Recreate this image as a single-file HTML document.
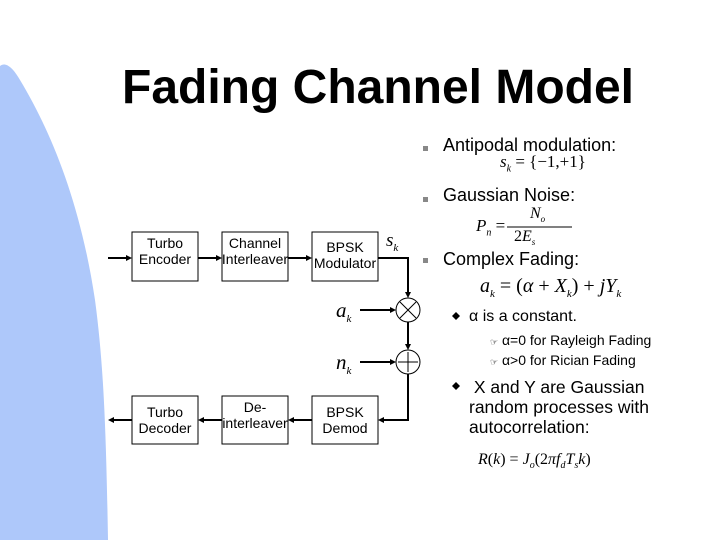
<!DOCTYPE html>
<html><head><meta charset="utf-8"><style>
body{margin:0;width:720px;height:540px;background:#fff;overflow:hidden;position:relative;font-family:"Liberation Sans",sans-serif}
.t{position:absolute;white-space:nowrap}
.m{font-family:"Liberation Serif",serif;font-style:italic}
</style></head><body>
<svg width="720" height="540" style="position:absolute;left:0;top:0">
<path d="M0,66 C5,62 12,66 20,80 C50,130 80,200 95,300 C103,360 106,420 108,540 L0,540 Z" fill="#aec8fa"/>
<g fill="none" stroke="#000" stroke-width="1">
<rect x="132" y="232" width="66" height="49"/>
<rect x="222" y="232" width="66" height="49"/>
<rect x="312" y="232" width="66" height="49"/>
<rect x="132" y="396" width="66" height="48"/>
<rect x="222" y="396" width="66" height="48"/>
<rect x="312" y="396" width="66" height="48"/>
<circle cx="408" cy="310" r="12"/>
<circle cx="408" cy="362" r="12"/>
<path d="M400,302 L416,318 M416,302 L400,318 M398,362 L418,362 M408,352 L408,372"/>
</g>
<g stroke="#000" stroke-width="2" fill="none">
<path d="M108,258 H130 M198,258 H220 M288,258 H310"/>
<path d="M378,258 H408 V296 M408,322 V348 M408,374 V420 H380"/>
<path d="M360,310 H394 M360,362 H394"/>
<path d="M312,420 H290 M222,420 H200 M132,420 H110"/>
</g>
<g fill="#000">
<path d="M132,258 l-6,-3 v6z M222,258 l-6,-3 v6z M312,258 l-6,-3 v6z"/>
<path d="M408,298 l-3,-6 h6z M408,350 l-3,-6 h6z M396,310 l-6,-3 v6z M396,362 l-6,-3 v6z"/>
<path d="M378,420 l6,-3 v6z M288,420 l6,-3 v6z M198,420 l6,-3 v6z M108,420 l6,-3 v6z"/>
</g>
<g fill="#888"><rect x="423" y="146" width="5" height="5"/><rect x="423" y="197" width="5" height="5"/><rect x="423" y="258" width="5" height="5"/></g>
<path d="M452,316 l4,-4 4,4 -4,4z M452,386 l4,-4 4,4 -4,4z" fill="#000"/>
<line x1="507" y1="227" x2="572" y2="227" stroke="#000"/>
</svg>
<div class="t" style="left:122px;top:60px;font-size:48px;font-weight:bold">Fading Channel Model</div>
<div class="t" style="left:128px;top:235px;width:74px;text-align:center;font-size:14px;line-height:16px">Turbo<br>Encoder</div>
<div class="t" style="left:214px;top:235px;width:82px;text-align:center;font-size:14px;line-height:16px">Channel<br>Interleaver</div>
<div class="t" style="left:304px;top:239px;width:82px;text-align:center;font-size:14px;line-height:16px">BPSK<br>Modulator</div>
<div class="t" style="left:128px;top:404px;width:74px;text-align:center;font-size:14px;line-height:16px">Turbo<br>Decoder</div>
<div class="t" style="left:212px;top:399px;width:86px;text-align:center;font-size:14px;line-height:16px">De-<br>interleaver</div>
<div class="t" style="left:308px;top:404px;width:74px;text-align:center;font-size:14px;line-height:16px">BPSK<br>Demod</div>
<div class="t m" style="left:386px;top:230px;font-size:19px">s<sub style="font-size:11px">k</sub></div>
<div class="t m" style="left:336px;top:298px;font-size:21px">a<sub style="font-size:11px">k</sub></div>
<div class="t m" style="left:336px;top:350px;font-size:21px">n<sub style="font-size:11px">k</sub></div>
<div class="t" style="left:443px;top:135px;font-size:18px">Antipodal modulation:</div>
<div class="t" style="left:500px;top:152px;font-size:17px;font-family:'Liberation Serif',serif"><i>s<sub style="font-size:10px">k</sub></i> = {−1,+1}</div>
<div class="t" style="left:443px;top:185px;font-size:18px">Gaussian Noise:</div>
<div class="t m" style="left:530px;top:205px;font-size:16px">N<sub style="font-size:9px">o</sub></div>
<div class="t" style="left:476px;top:216px;font-size:17px;font-family:'Liberation Serif',serif"><i>P<sub style="font-size:10px">n</sub></i> =</div>
<div class="t m" style="left:514px;top:228px;font-size:16px"><span style="font-style:normal">2</span>E<sub style="font-size:9px">s</sub></div>
<div class="t" style="left:443px;top:249px;font-size:18px">Complex Fading:</div>
<div class="t" style="left:480px;top:275px;font-size:20px;font-family:'Liberation Serif',serif"><i>a<sub style="font-size:11px">k</sub></i> = (<i>α</i> + <i>X<sub style="font-size:11px">k</sub></i>) + <i>jY<sub style="font-size:11px">k</sub></i></div>
<div class="t" style="left:469px;top:308px;font-size:16px">α is a constant.</div>
<div class="t" style="left:490px;top:332px;font-size:14px;color:#000"><span style="font-size:9px">☞</span> α=0 for Rayleigh Fading</div>
<div class="t" style="left:490px;top:352px;font-size:14px"><span style="font-size:9px">☞</span> α&gt;0 for Rician Fading</div>
<div class="t" style="left:469px;top:377px;font-size:17.5px;line-height:20px">&nbsp;X and Y are Gaussian<br>random processes with<br>autocorrelation:</div>
<div class="t" style="left:478px;top:451px;font-size:16px;font-family:'Liberation Serif',serif"><i>R</i>(<i>k</i>) = <i>J<sub style="font-size:10px">o</sub></i>(2<i>πf<sub style="font-size:10px">d</sub>T<sub style="font-size:10px">s</sub>k</i>)</div>
</body></html>
